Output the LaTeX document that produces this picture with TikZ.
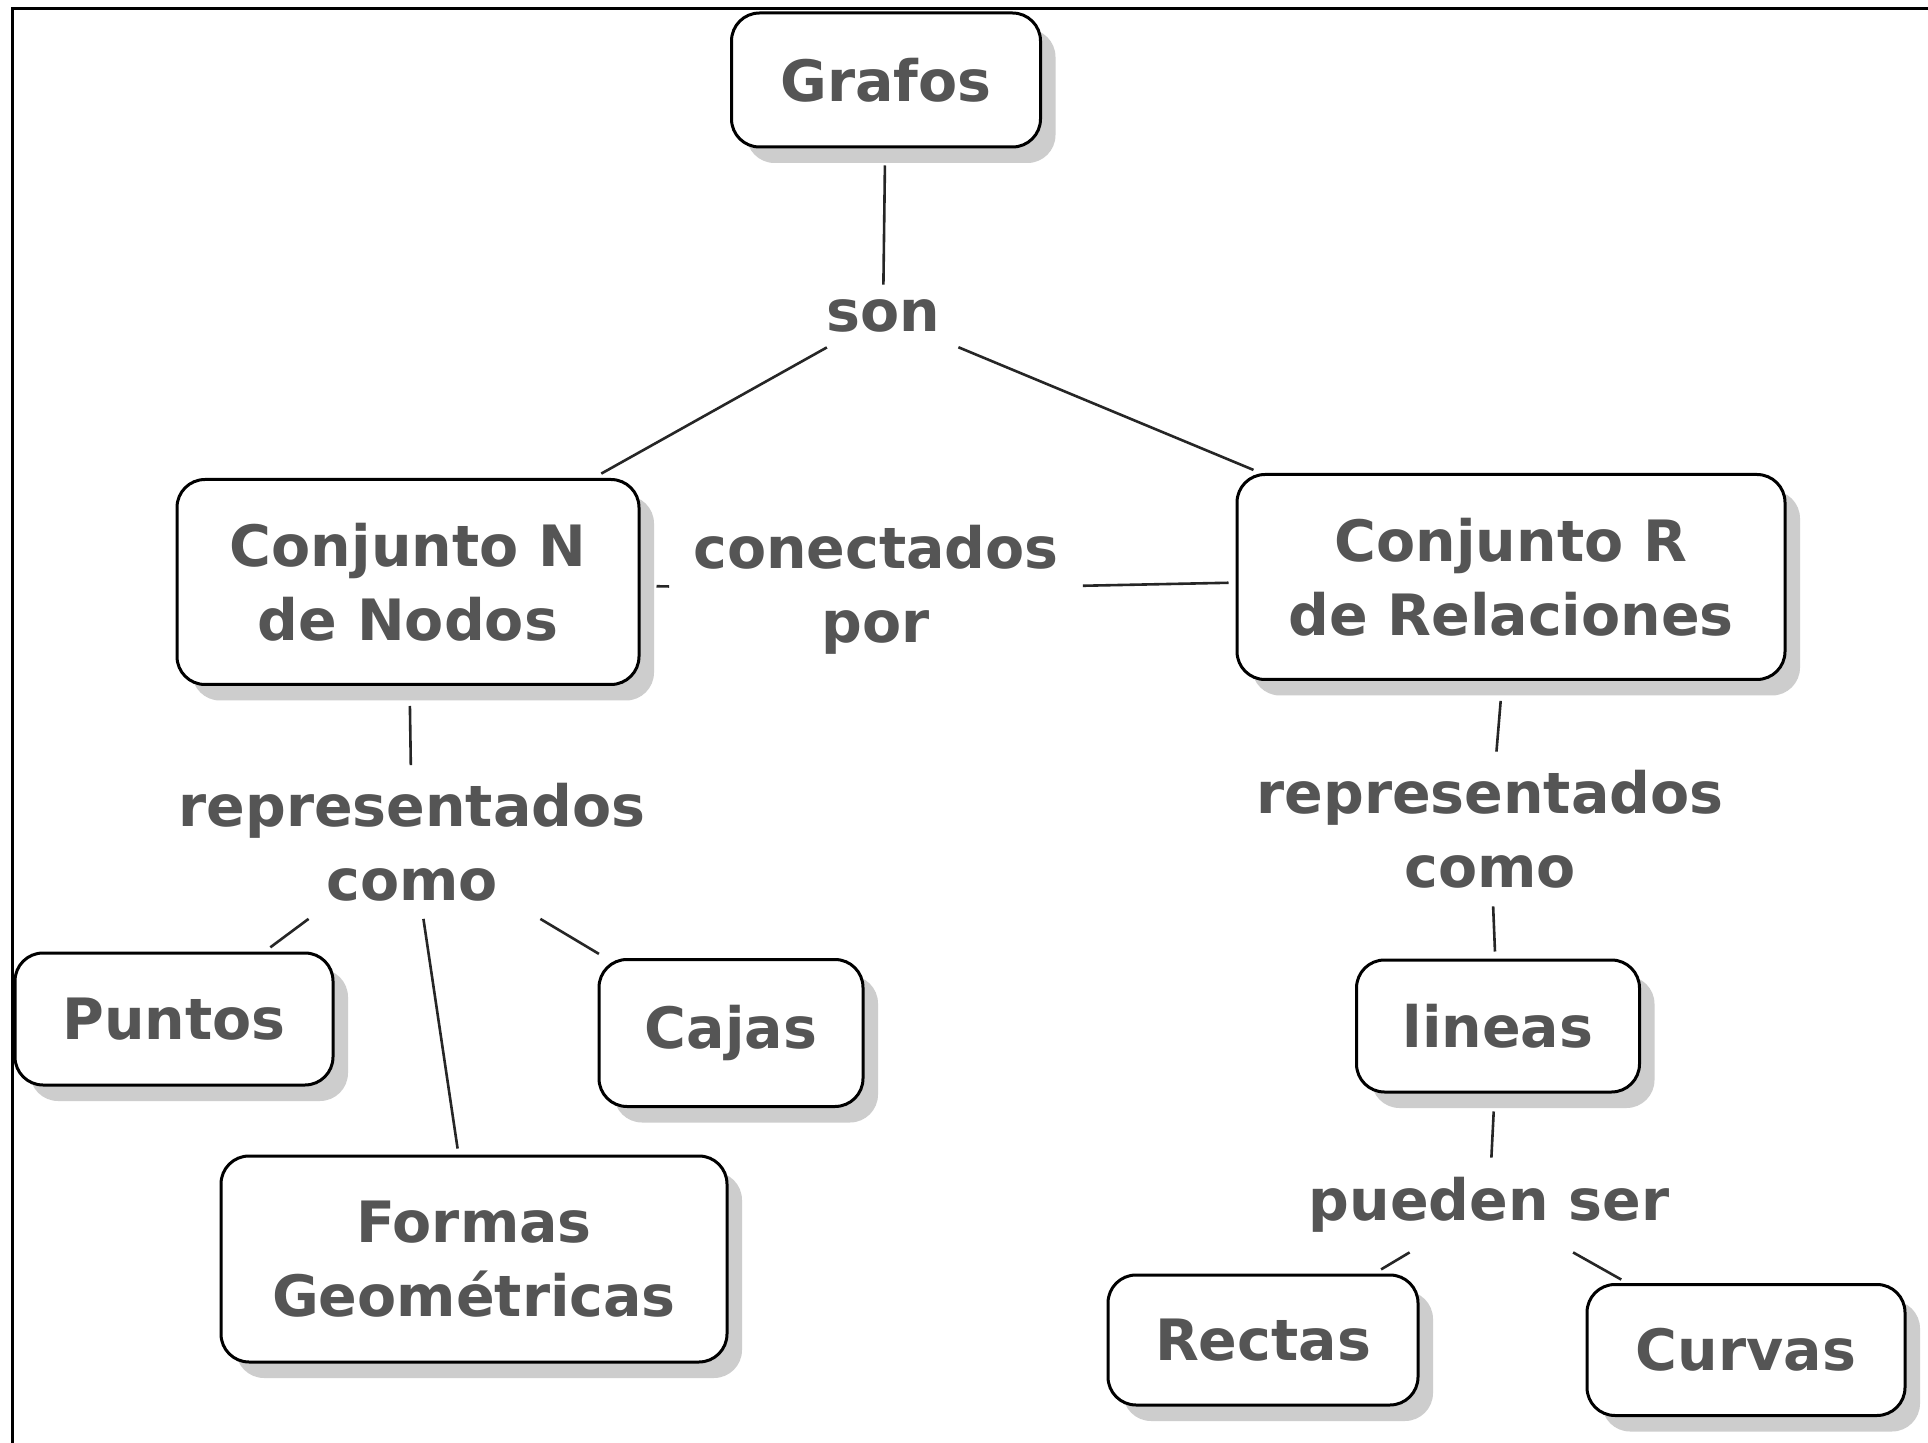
\documentclass[tikz,border=0pt]{standalone}
\usepackage{fontspec}
\setmainfont{DejaVu Sans}
\usetikzlibrary{shadows}
\definecolor{txt}{RGB}{85,85,85}
\definecolor{shd}{RGB}{205,205,205}
\tikzset{
  lblfont/.style={font=\fontsize{28.5}{37}\selectfont\bfseries},
  box/.style={draw=black, line width=1.5pt, rounded corners=14pt, fill=white,
    inner sep=0pt, align=center, text=txt, lblfont,
    copy shadow={shadow xshift=7.5pt, shadow yshift=-8pt, fill=shd, draw=none}},
  lbl/.style={inner sep=0pt, align=center, text=txt, lblfont},
  con/.style={line width=1.3pt, draw=black!85}
}
\begin{document}
\begin{tikzpicture}[x=0.5pt,y=-0.5pt]
\fill[white] (0,0) rectangle (1928,1443);
\useasboundingbox (0,0) rectangle (1928,1443);
\draw[line width=1.5pt] (12,1443) -- (12,8.5) -- (1928,8.5);

% boxes
\node[box, minimum width=154.5pt, minimum height=67pt] (grafos) at (886,80) {Grafos};
\node[box, minimum width=231pt, minimum height=102.5pt] (nodos) at (408,582) {Conjunto N\\de Nodos};
\node[box, minimum width=274pt, minimum height=102.5pt] (rel) at (1511,577) {Conjunto R\\de Relaciones};
\node[box, minimum width=159pt, minimum height=66pt] (puntos) at (174,1019) {Puntos};
\node[box, minimum width=132pt, minimum height=73.5pt] (cajas) at (731,1033) {Cajas};
\node[box, minimum width=253pt, minimum height=103pt] (formas) at (474,1259) {Formas\\Geométricas};
\node[box, minimum width=141.5pt, minimum height=66pt] (lineas) at (1498,1026) {lineas};
\node[box, minimum width=155pt, minimum height=65pt] (rectas) at (1263,1340) {Rectas};
\node[box, minimum width=159pt, minimum height=65.5pt] (curvas) at (1746,1350) {Curvas};

% linking phrases
\node[lbl, minimum width=75pt, minimum height=31pt] (son) at (883,316) {son};
\node[lbl, minimum width=206.5pt, minimum height=60pt] (con) at (876,590) {conectados\\por};
\node[lbl, minimum width=235pt, minimum height=76.5pt] (repL) at (412,842) {representados\\como};
\node[lbl, minimum width=235pt, minimum height=77pt] (repR) at (1490,829) {representados\\como};
\node[lbl, minimum width=182.5pt, minimum height=47pt] (pueden) at (1489,1205) {pueden ser};

% connectors
\draw[con, shorten <=8.5pt] (grafos) -- (son);
\draw[con, shorten >=4.5pt] (son) -- (nodos);
\draw[con, shorten >=4pt] (son) -- (rel);
\draw[con, shorten <=8pt] (nodos) -- (con);
\draw[con, shorten >=3.5pt] (con) -- (rel);
\draw[con, shorten <=10pt] (nodos) -- (repL);
\draw[con, shorten >=3.5pt] (repL) -- (puntos);
\draw[con, shorten >=3pt] (repL) -- (formas);
\draw[con, shorten >=4pt] (repL) -- (cajas);
\draw[con, shorten <=10pt] (rel) -- (repR);
\draw[con, shorten >=3.5pt] (repR) -- (lineas);
\draw[con, shorten <=9pt] (lineas) -- (pueden);
\draw[con, shorten >=4pt] (pueden) -- (rectas);
\draw[con, shorten >=3.5pt] (pueden) -- (curvas);
\end{tikzpicture}
\end{document}
